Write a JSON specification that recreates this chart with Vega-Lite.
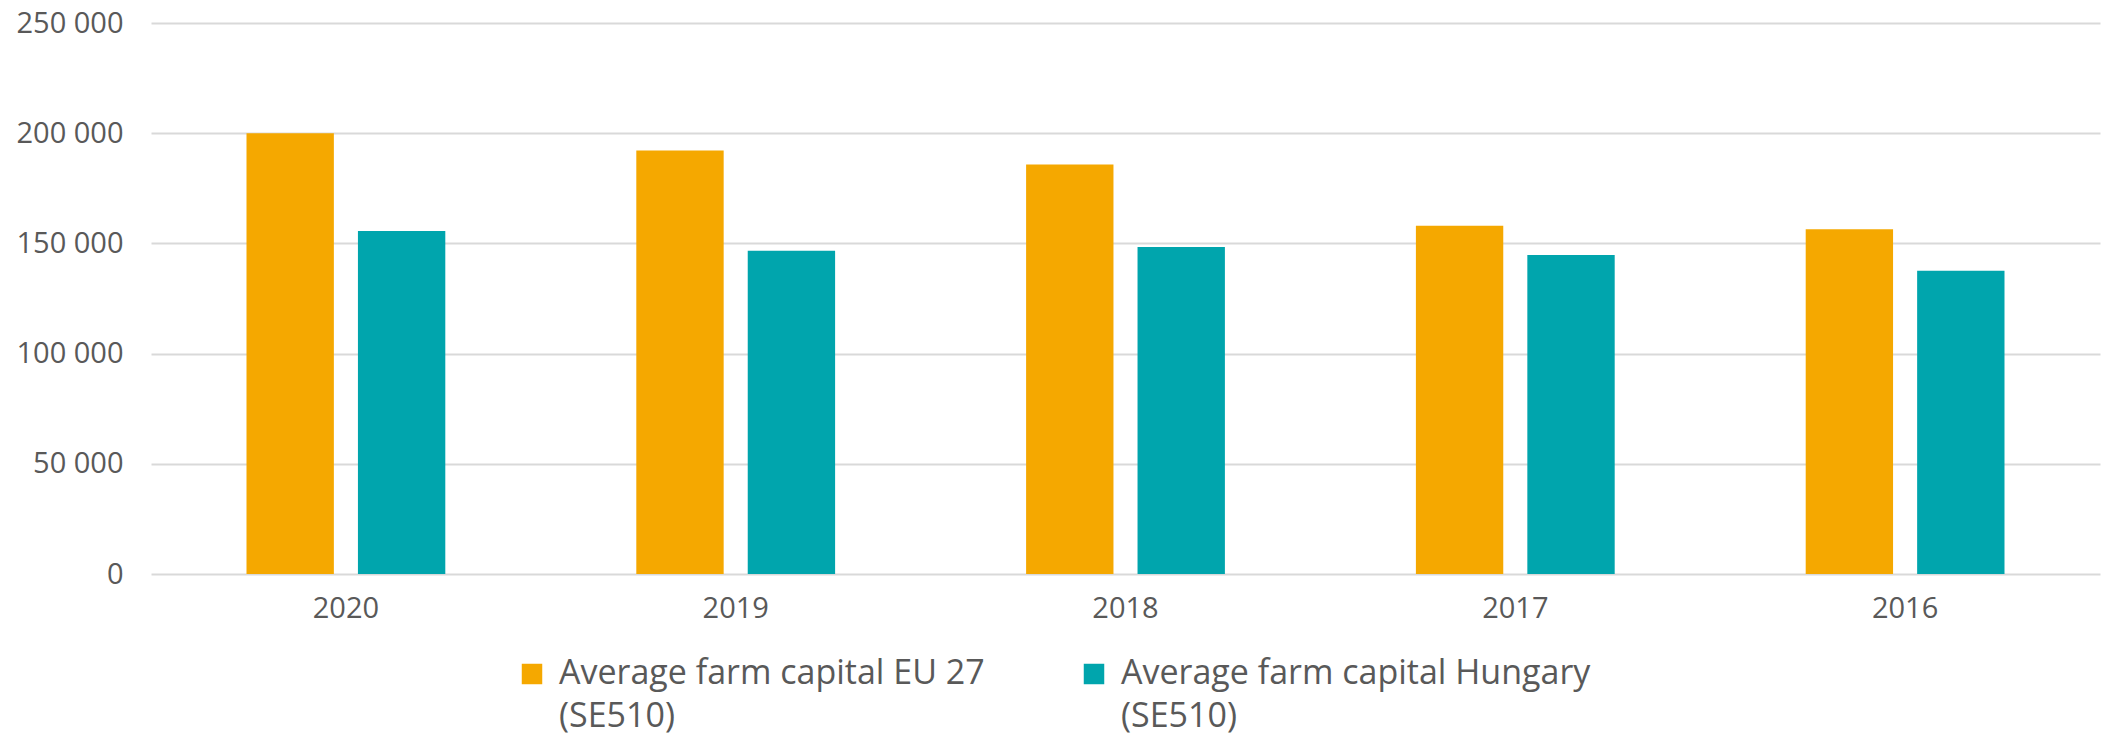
{
  "$schema": "https://vega.github.io/schema/vega-lite/v6.json",
  "autosize": "none",
  "padding": {"left": 151, "top": 23, "right": 2, "bottom": 167},
  "width": 1949,
  "height": 551,
  "background": "white",
  "config": {
    "view": {"stroke": null},
    "font": "Open Sans"
  },
  "data": {
    "values": [
      {"year": "2020", "series": "Average farm capital EU 27 (SE510)", "value": 200000},
      {"year": "2020", "series": "Average farm capital Hungary (SE510)", "value": 155600},
      {"year": "2019", "series": "Average farm capital EU 27 (SE510)", "value": 192200},
      {"year": "2019", "series": "Average farm capital Hungary (SE510)", "value": 146700},
      {"year": "2018", "series": "Average farm capital EU 27 (SE510)", "value": 185800},
      {"year": "2018", "series": "Average farm capital Hungary (SE510)", "value": 148400},
      {"year": "2017", "series": "Average farm capital EU 27 (SE510)", "value": 158000},
      {"year": "2017", "series": "Average farm capital Hungary (SE510)", "value": 144700},
      {"year": "2016", "series": "Average farm capital EU 27 (SE510)", "value": 156400},
      {"year": "2016", "series": "Average farm capital Hungary (SE510)", "value": 137600}
    ]
  },
  "mark": {"type": "bar"},
  "encoding": {
    "x": {
      "field": "year",
      "type": "nominal",
      "sort": ["2020", "2019", "2018", "2017", "2016"],
      "scale": {"paddingInner": 0.49, "paddingOuter": 0.245},
      "axis": {
        "title": null,
        "labelAngle": 0,
        "domain": false,
        "ticks": false,
        "labelFontSize": 29,
        "labelColor": "#595959",
        "labelPadding": 20,
        "labelFont": "Open Sans"
      }
    },
    "xOffset": {
      "field": "series",
      "type": "nominal",
      "scale": {"paddingInner": 0.216, "paddingOuter": 0}
    },
    "y": {
      "field": "value",
      "type": "quantitative",
      "scale": {"domain": [0, 250000], "nice": false},
      "axis": {
        "title": null,
        "values": [0, 50000, 100000, 150000, 200000, 250000],
        "labelExpr": "replace(format(datum.value, ',d'), ',', ' ')",
        "domain": false,
        "ticks": false,
        "labelFontSize": 29,
        "labelColor": "#595959",
        "labelPadding": 28,
        "labelFont": "Open Sans",
        "gridColor": "#d9d9d9",
        "gridWidth": 2
      }
    },
    "color": {
      "field": "series",
      "type": "nominal",
      "scale": {
        "domain": ["Average farm capital EU 27 (SE510)", "Average farm capital Hungary (SE510)"],
        "range": ["#F5A800", "#00A5AD"]
      },
      "legend": {
        "title": null,
        "orient": "none",
        "direction": "horizontal",
        "columns": 2,
        "legendX": 364,
        "legendY": 634,
        "symbolType": "square",
        "symbolSize": 420,
        "symbolStrokeWidth": 0,
        "symbolOpacity": 1,
        "labelFontSize": 34,
        "labelColor": "#595959",
        "labelFont": "Open Sans",
        "labelOffset": 10,
        "labelLimit": 700,
        "columnPadding": 92,
        "labelExpr": "[replace(datum.label, ' (SE510)', ''), '(SE510)']",
        "encode": {
          "labels": {"update": {"lineHeight": {"value": 43}}}
        }
      }
    }
  }
}
